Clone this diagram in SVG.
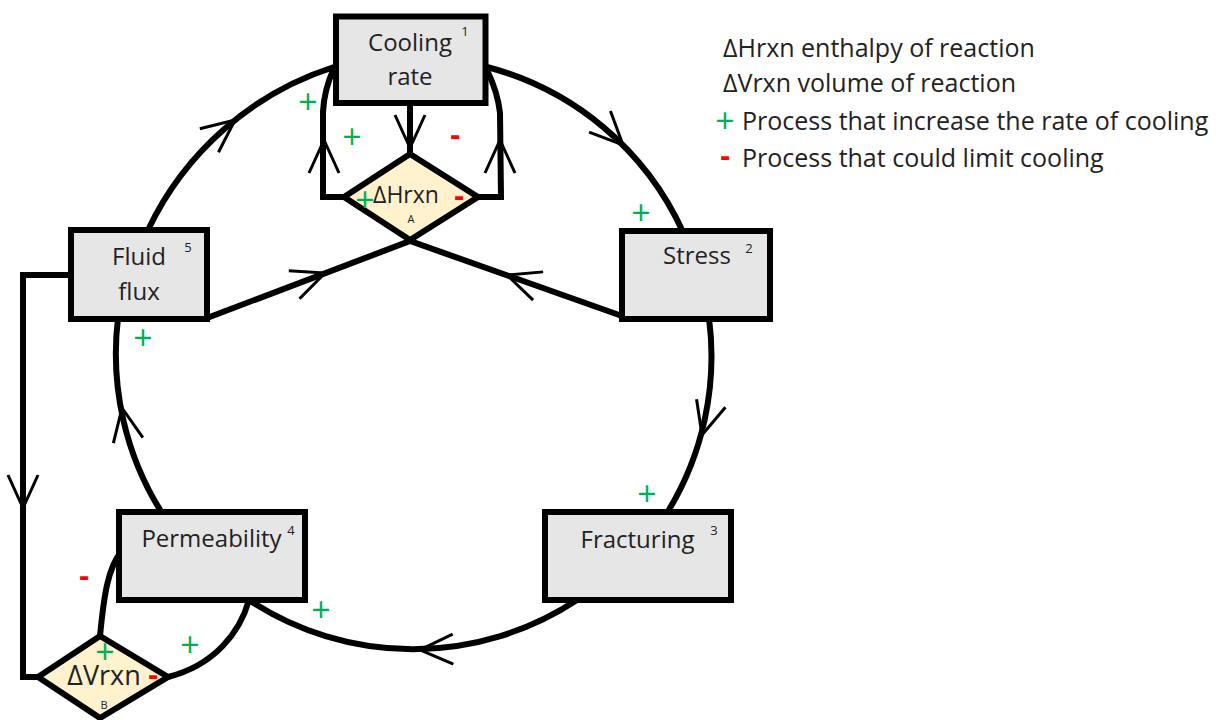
<svg xmlns="http://www.w3.org/2000/svg" width="1220" height="720" viewBox="0 0 1220 720">
<style>
.ln{fill:none;stroke:#000;stroke-width:6}
.box{fill:#e6e6e6;stroke:#000;stroke-width:6}
.dia{fill:#fff2cc;stroke:#000;stroke-width:6;stroke-linejoin:miter}
.t{font-family:"Open Sans","Liberation Sans",sans-serif;fill:#222}
.lbl{font-size:24px;text-anchor:middle}
.sup{font-size:13px;text-anchor:middle}
.leg{font-size:25px}
.pl{font-family:"Open Sans","Liberation Sans",sans-serif;font-size:34px;fill:#00b050;text-anchor:middle}
.mi{font-family:"Open Sans","Liberation Sans",sans-serif;font-size:30px;font-weight:bold;fill:#ff0000;text-anchor:middle}
</style>
<defs>
<path id="ah" d="M-33,-15 L0,0 L-33,15" fill="none" stroke="#000" stroke-width="3"/>
</defs>
<rect width="1220" height="720" fill="#fff"/>
<g id="connectors">
<path class="ln" d="M148,230 A310,310 0 0 1 334,67"/>
<path class="ln" d="M487,67 A298,298 0 0 1 683,232"/>
<path class="ln" d="M709,318 A298,298 0 0 1 667,513"/>
<path class="ln" d="M577,600 A298,298 0 0 1 249,600"/>
<path class="ln" d="M162,513 A298,298 0 0 1 118,318"/>
<path class="ln" d="M410,104 L410,153"/>
<path class="ln" d="M334,68 Q324,90 323,112 L323,197 L345,197"/>
<path class="ln" d="M487,70 Q498,93 500,113 L501,197 L478,197"/>
<path class="ln" d="M207,318 L410,241 L622,316"/>
<path class="ln" d="M71,275 L23,275 L23,677 L40,677"/>
<path class="ln" d="M100,636 C104,595 108,568 121,552"/>
<path class="ln" d="M168,677 C215,665 240,632 249,600"/>
<use href="#ah" transform="translate(235,120) rotate(-38.4)"/>
<use href="#ah" transform="translate(623,145) rotate(45.3)"/>
<use href="#ah" transform="translate(702,435) rotate(105.8)"/>
<use href="#ah" transform="translate(420,650) rotate(178.6)"/>
<use href="#ah" transform="translate(122,408) rotate(-100.7)"/>
<use href="#ah" transform="translate(410,148) rotate(90)"/>
<use href="#ah" transform="translate(324,140) rotate(-90)"/>
<use href="#ah" transform="translate(500,140) rotate(-90)"/>
<use href="#ah" transform="translate(325,273) rotate(-20.9)"/>
<use href="#ah" transform="translate(507,275) rotate(199.5)"/>
<use href="#ah" transform="translate(23,508) rotate(90)"/>
</g>
<g id="cooling">
<rect class="box" x="336" y="16.5" width="149.5" height="86.5"/>
<text class="t lbl" x="410" y="51">Cooling</text>
<text class="t lbl" x="410" y="85">rate</text>
<text class="t sup" x="465" y="36">1</text>
</g>
<g id="stress">
<rect class="box" x="622" y="231" width="148" height="88"/>
<text class="t lbl" x="697" y="264">Stress</text>
<text class="t sup" x="749" y="253">2</text>
</g>
<g id="fracturing">
<rect class="box" x="545" y="512" width="186" height="88"/>
<text class="t lbl" x="637.5" y="548">Fracturing</text>
<text class="t sup" x="714" y="535">3</text>
</g>
<g id="permeability">
<rect class="box" x="119" y="512" width="186" height="88"/>
<text class="t lbl" x="211.5" y="547">Permeability</text>
<text class="t sup" x="291" y="535">4</text>
</g>
<g id="fluidflux">
<rect class="box" x="71" y="230" width="136" height="89"/>
<text class="t lbl" x="139" y="265">Fluid</text>
<text class="t lbl" x="139" y="300">flux</text>
<text class="t sup" x="188" y="252">5</text>
</g>
<g id="dHrxn">
<polygon class="dia" points="410,154 478,197 410,240 344,197"/>
<text class="t" x="406" y="203" font-size="23" text-anchor="middle">ΔHrxn</text>
<text class="t" x="411" y="223" font-size="11" text-anchor="middle">A</text>
</g>
<g id="dVrxn">
<polygon class="dia" points="100,636 168,677 100,718 38,677"/>
<text class="t" x="104" y="685" font-size="27" text-anchor="middle">ΔVrxn</text>
<text class="t" x="104" y="709" font-size="11" text-anchor="middle">B</text>
</g>
<g id="signs">
<text class="pl" x="308" y="114">+</text>
<text class="pl" x="352" y="149">+</text>
<text class="pl" x="641" y="225">+</text>
<text class="pl" x="143" y="350">+</text>
<text class="pl" x="647" y="506">+</text>
<text class="pl" x="321" y="622">+</text>
<text class="pl" x="190" y="657">+</text>
<text class="pl" x="105" y="664">+</text>
<text class="pl" x="365" y="212">+</text>
<text class="mi" x="455" y="145">-</text>
<text class="mi" x="459" y="206">-</text>
<text class="mi" x="84" y="586">-</text>
<text class="mi" x="153" y="685">-</text>
</g>
<g id="legend">
<text class="t leg" x="723" y="57">ΔHrxn enthalpy of reaction</text>
<text class="t leg" x="723" y="92">ΔVrxn volume of reaction</text>
<text class="pl" x="725" y="133" font-size="30">+</text>
<text class="t leg" x="742" y="130">Process that increase the rate of cooling</text>
<text class="mi" x="725" y="166" font-size="26">-</text>
<text class="t leg" x="742" y="167">Process that could limit cooling</text>
</g>
</svg>
